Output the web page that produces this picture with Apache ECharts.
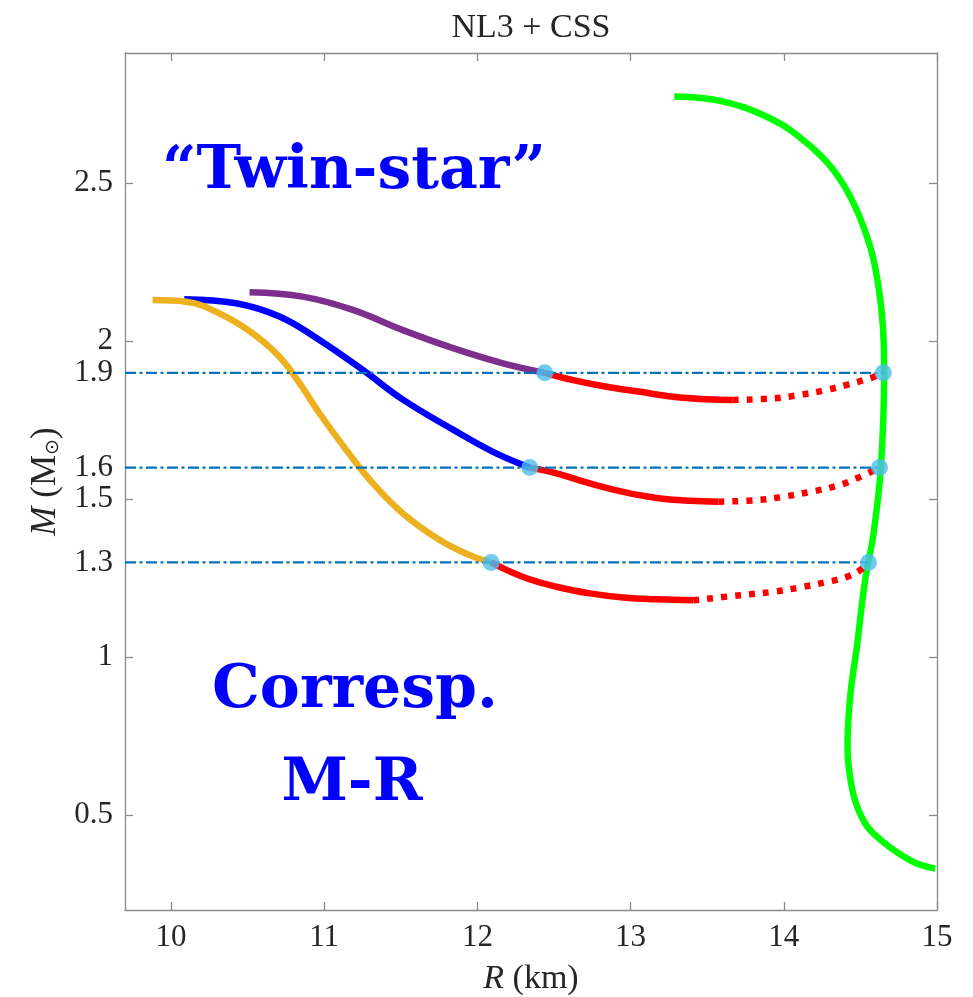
<!DOCTYPE html>
<html>
<head>
<meta charset="utf-8">
<script src="https://cdn.jsdelivr.net/npm/echarts@6/dist/echarts.min.js"></script>
<style>
html,body{margin:0;padding:0;background:#fff;}
#c{width:973px;height:997px;}
</style>
</head>
<body>
<div id="c"></div>
<script>
// ---- Data (R in km, M in solar masses) ----
var xTicks = [10, 11, 12, 13, 14, 15];
var yLabelTicks = [0.5, 1, 1.3, 1.5, 1.6, 1.9, 2, 2.5];
var yMajorTicks = [0.5, 1, 1.5, 2, 2.5];

var greenNL3 = [[13.285,2.774],[13.605,2.758],[13.932,2.700],[14.15,2.627],[14.324,2.542],[14.455,2.437],[14.564,2.299],[14.618,2.173],[14.647,2.046],[14.655,1.903],[14.634,1.603],[14.586,1.392],[14.531,1.244],[14.477,1.033],[14.433,0.874],[14.416,0.716],[14.444,0.589],[14.498,0.505],[14.586,0.442],[14.825,0.357],[14.989,0.331]];
var purpleCSS = [[10.513,2.155],[10.86,2.141],[11.187,2.099],[11.514,2.035],[11.841,1.978],[12.167,1.930],[12.44,1.90]];
var blueCSS = [[10.087,2.133],[10.425,2.120],[10.708,2.078],[10.969,2.004],[11.252,1.909],[11.514,1.815],[11.841,1.720],[12.102,1.650],[12.342,1.60]];
var orangeCSS = [[9.88,2.130],[10.098,2.125],[10.316,2.088],[10.533,2.025],[10.708,1.951],[10.839,1.867],[10.969,1.772],[11.144,1.656],[11.318,1.550],[11.514,1.455],[11.754,1.371],[11.95,1.323],[12.09,1.30]];

var redTopSolid = [[12.44,1.90],[12.625,1.877],[12.843,1.856],[13.061,1.840],[13.278,1.824],[13.497,1.816],[13.667,1.814]];
var redTopDotted = [[13.667,1.814],[13.932,1.819],[14.107,1.830],[14.281,1.846],[14.412,1.862],[14.564,1.883],[14.65,1.90]];
var redMidSolid = [[12.342,1.60],[12.516,1.582],[12.734,1.550],[12.952,1.523],[13.17,1.504],[13.388,1.495],[13.573,1.492]];
var redMidDotted = [[13.573,1.492],[13.824,1.497],[13.997,1.508],[14.172,1.523],[14.346,1.542],[14.477,1.566],[14.625,1.60]];
var redBotSolid = [[12.09,1.30],[12.298,1.254],[12.516,1.223],[12.734,1.202],[12.952,1.189],[13.17,1.183],[13.409,1.180]];
var redBotDotted = [[13.409,1.180],[13.714,1.196],[13.932,1.207],[14.107,1.221],[14.281,1.238],[14.412,1.254],[14.499,1.276],[14.553,1.30]];

var massLevels = [1.9, 1.6, 1.3];
var levelStartR = 9.7;
var levelEndR = [14.65, 14.625, 14.553];
var leftDots = [[12.44,1.9],[12.342,1.6],[12.09,1.3]];
var rightDots = [[14.65,1.9],[14.625,1.6],[14.553,1.3]];

var titleText = 'NL3 + CSS';
var noteTwin = '\u201CTwin-star\u201D';
var noteCorr1 = 'Corresp.';
var noteCorr2 = 'M-R';

// ---- Chart ----
var chart = echarts.init(document.getElementById('c'), null, {renderer: 'canvas'});
var FONT = 'Liberation Serif';
var TXT = '#262626';
var AX = '#8a8a8a';

function curve(data, color, extra) {
  var s = {
    type: 'line', data: data, showSymbol: false, smooth: 0.4, z: 3,
    lineStyle: {color: color, width: 6.5, cap: 'butt', join: 'round'}, silent: true, animation: false
  };
  if (extra) { for (var k in extra) s.lineStyle[k] = extra[k]; }
  return s;
}

var series = [
  curve(greenNL3, '#00FF00'),
  curve(purpleCSS, '#7E2F8E'),
  curve(blueCSS, '#0000FF'),
  curve(orangeCSS, '#EDB120'),
  curve(redTopSolid, '#FF0000'),
  curve(redMidSolid, '#FF0000'),
  curve(redBotSolid, '#FF0000'),
  curve(redTopDotted, '#FF0000', {type: [6, 8], join: 'miter'}),
  curve(redMidDotted, '#FF0000', {type: [6, 8], join: 'miter'}),
  curve(redBotDotted, '#FF0000', {type: [6, 8], join: 'miter'})
];
massLevels.forEach(function (m, i) {
  series.push({
    type: 'line', data: [[levelStartR, m], [levelEndR[i], m]], showSymbol: false, z: 4,
    lineStyle: {color: '#0072BD', width: 2.3, type: [11, 3.5, 3, 3.5]}, silent: true, animation: false
  });
});
series.push({
  type: 'scatter', data: leftDots.concat(rightDots), symbolSize: 17, z: 6,
  itemStyle: {color: '#4DBEEE'}, silent: true, animation: false
});
series.forEach(function (s) { s.xAxisIndex = 0; s.yAxisIndex = 0; });

var option = {
  backgroundColor: '#ffffff',
  animation: false,
  grid: {left: 125, right: 36, top: 53, bottom: 87, containLabel: false, outerBoundsMode: 'none'},
  xAxis: [{
    type: 'value', min: 9.7, max: 15, position: 'bottom',
    name: '{i|R} (km)', nameLocation: 'middle', nameGap: 52,
    nameTextStyle: {fontFamily: FONT, fontSize: 34, color: TXT,
      rich: {i: {fontFamily: FONT, fontStyle: 'italic', fontSize: 34, color: TXT}}},
    axisLine: {show: true, onZero: false, lineStyle: {color: AX, width: 1.3}},
    axisTick: {show: true, inside: true, length: 8, customValues: xTicks, lineStyle: {color: AX, width: 1.3}},
    axisLabel: {customValues: xTicks, fontFamily: FONT, fontSize: 31, color: TXT, margin: 12},
    splitLine: {show: false}
  }, {
    type: 'value', min: 9.7, max: 15, position: 'top',
    axisLine: {show: true, onZero: false, lineStyle: {color: AX, width: 1.3}},
    axisTick: {show: true, inside: true, length: 8, customValues: xTicks, lineStyle: {color: AX, width: 1.3}},
    axisLabel: {show: false},
    splitLine: {show: false}
  }],
  yAxis: [{
    type: 'value', min: 0.2, max: 2.912, position: 'left',
    name: '{i|M} (M{s|\u2299})', nameLocation: 'middle', nameRotate: 90, nameGap: 62,
    nameTextStyle: {fontFamily: FONT, fontSize: 35, color: TXT,
      rich: {
        i: {fontFamily: FONT, fontStyle: 'italic', fontSize: 35, color: TXT},
        s: {fontFamily: 'DejaVu Sans', fontSize: 19, color: TXT, verticalAlign: 'bottom'}
      }},
    axisLine: {show: true, onZero: false, lineStyle: {color: AX, width: 1.3}},
    axisTick: {show: true, inside: true, length: 8, customValues: yMajorTicks, lineStyle: {color: AX, width: 1.3}},
    axisLabel: {customValues: yLabelTicks, fontFamily: FONT, fontSize: 31, color: TXT, margin: 12},
    splitLine: {show: false}
  }, {
    type: 'value', min: 0.2, max: 2.912, position: 'right',
    axisLine: {show: true, onZero: false, lineStyle: {color: AX, width: 1.3}},
    axisTick: {show: true, inside: true, length: 8, customValues: yMajorTicks, lineStyle: {color: AX, width: 1.3}},
    axisLabel: {show: false},
    splitLine: {show: false}
  }],
  graphic: [
    {type: 'text', x: 0, y: 0, style: {text: titleText, x: 531, y: 28, align: 'center', verticalAlign: 'middle', font: '34px "Liberation Serif"', fill: TXT}},
    {type: 'text', x: 0, y: 0, style: {text: noteTwin, x: 354, y: 172, align: 'center', verticalAlign: 'middle', font: 'bold 60px "DejaVu Serif"', fill: '#0000FF'}},
    {type: 'text', x: 0, y: 0, style: {text: noteCorr1, x: 355, y: 691, align: 'center', verticalAlign: 'middle', font: 'bold 60px "DejaVu Serif"', fill: '#0000FF'}},
    {type: 'text', x: 0, y: 0, style: {text: noteCorr2, x: 352, y: 784, align: 'center', verticalAlign: 'middle', font: 'bold 60px "DejaVu Serif"', fill: '#0000FF'}}
  ],
  series: series
};
chart.setOption(option);
</script>
</body>
</html>
